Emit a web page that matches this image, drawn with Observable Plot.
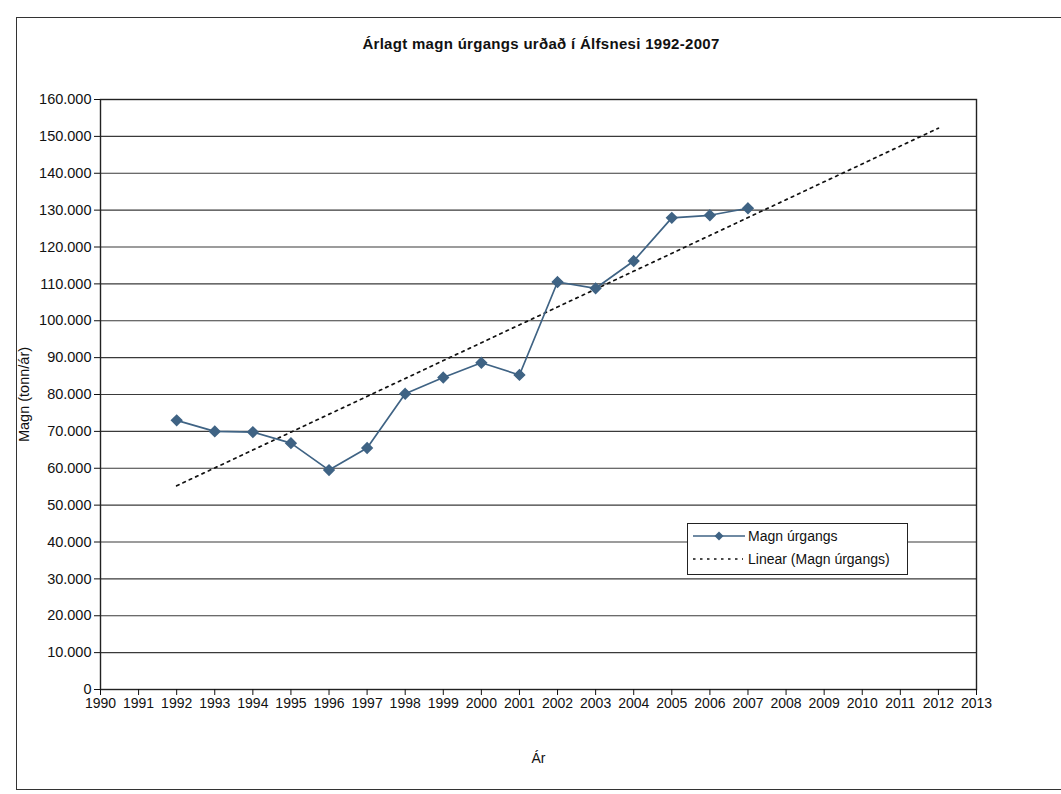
<!DOCTYPE html>
<html>
<head>
<meta charset="utf-8">
<script src="https://cdn.jsdelivr.net/npm/d3@7"></script>
<script src="https://cdn.jsdelivr.net/npm/@observablehq/plot@0.6"></script>
<style>
  html, body { margin: 0; padding: 0; background: #fff; }
  #wrap { position: relative; width: 1061px; height: 794px; overflow: hidden; background: #fff;
          font-family: "Liberation Sans", Arial, sans-serif; color: #111; }
  #outer { position: absolute; left: 16px; top: 17px; width: 1100px; height: 771px; border: 1.5px solid #333; }
  #title { position: absolute; top: 35px; left: 0; width: 1082px; text-align: center;
           font-weight: bold; font-size: 15px; letter-spacing: 0.3px; }
  #chart { position: absolute; left: 0; top: 60px; }
  #legend { position: absolute; left: 687px; top: 523px; width: 219px; height: 50px;
            border: 1px solid #222; background: #fff; font-size: 14px; }
  #legend .row { position: absolute; left: 5px; height: 20px; display: flex; align-items: center; }
  #legend svg { margin-right: 3px; }
</style>
</head>
<body>
<div id="wrap">
  <div id="outer"></div>
  <div id="title">Árlagt magn úrgangs urðað í Álfsnesi 1992-2007</div>
  <div id="chart"></div>
  <div id="legend">
    <div class="row" style="top:2px">
      <svg width="52" height="20"><line x1="0" y1="10" x2="52" y2="10" stroke="#3f6384" stroke-width="1.6"/><path d="M26,5.5L30.5,10L26,14.5L21.5,10Z" fill="#3f6384"/></svg>
      <span>Magn úrgangs</span>
    </div>
    <div class="row" style="top:25px">
      <svg width="52" height="20"><line x1="0" y1="10" x2="50" y2="10" stroke="#111" stroke-width="1.6" stroke-dasharray="2.5,4.5"/></svg>
      <span>Linear (Magn úrgangs)</span>
    </div>
  </div>
</div>
<script>
// ---- data ----
const years = [1992, 1993, 1994, 1995, 1996, 1997, 1998, 1999, 2000, 2001, 2002, 2003, 2004, 2005, 2006, 2007];
const magn  = [73000, 70000, 69800, 66800, 59500, 65500, 80200, 84600, 88600, 85300, 110500, 108800, 116200, 127900, 128600, 130500];
const xTicks = [1990, 1991, 1992, 1993, 1994, 1995, 1996, 1997, 1998, 1999, 2000, 2001, 2002, 2003, 2004, 2005, 2006, 2007, 2008, 2009, 2010, 2011, 2012, 2013];
const yTicks = [0, 10000, 20000, 30000, 40000, 50000, 60000, 70000, 80000, 90000, 100000, 110000, 120000, 130000, 140000, 150000, 160000];
const trendForward = 5; // Excel trendline forecast (periods forward)

const data = years.map((y, i) => ({year: y, value: magn[i]}));

// linear trend (least squares) of the series, as Excel's "Linear" trendline
const mx = d3.mean(years), my = d3.mean(magn);
const slope = d3.sum(years, (x, i) => (x - mx) * (magn[i] - my)) / d3.sum(years, x => (x - mx) ** 2);
const icpt = my - slope * mx;
const trendX = [years[0], years[years.length - 1] + trendForward];
const trend = trendX.map(x => ({year: x, value: icpt + slope * x}));

const fmt = d3.formatLocale({decimal: ",", thousands: ".", grouping: [3], currency: ["", ""]}).format(",");
const blue = "#3f6384";

const chart = Plot.plot({
  width: 1061,
  height: 714,
  marginLeft: 100,
  marginRight: 85,
  marginTop: 39,
  marginBottom: 85,
  style: {fontFamily: "'Liberation Sans', Arial, sans-serif", fontSize: "14px", color: "#111", background: "transparent"},
  x: {domain: [1990, 2013]},
  y: {domain: [0, 160000]},
  marks: [
    Plot.gridY(yTicks, {stroke: "#3a3a3a", strokeOpacity: 1, strokeWidth: 1.1}),
    Plot.frame({stroke: "#222", strokeWidth: 1.4}),
    Plot.axisY({ticks: yTicks, tickFormat: fmt, tickSize: 6, tickPadding: 3,
      label: "Magn (tonn/ár)", labelAnchor: "center", labelArrow: "none", labelOffset: 82, fontSize: 14.5}),
    Plot.axisX({ticks: xTicks, tickFormat: d => String(d), tickSize: 6, tickPadding: 3,
      label: "Ár", labelAnchor: "center", labelArrow: "none", labelOffset: 73}),
    Plot.line(trend, {x: "year", y: "value", stroke: "#111", strokeWidth: 1.7, strokeDasharray: "2.5,4.5"}),
    Plot.line(data, {x: "year", y: "value", stroke: blue, strokeWidth: 1.7}),
    Plot.dot(data, {x: "year", y: "value", symbol: "diamond2", r: 4.6, fill: blue, stroke: blue})
  ]
});
document.getElementById("chart").appendChild(chart);
</script>
</body>
</html>
